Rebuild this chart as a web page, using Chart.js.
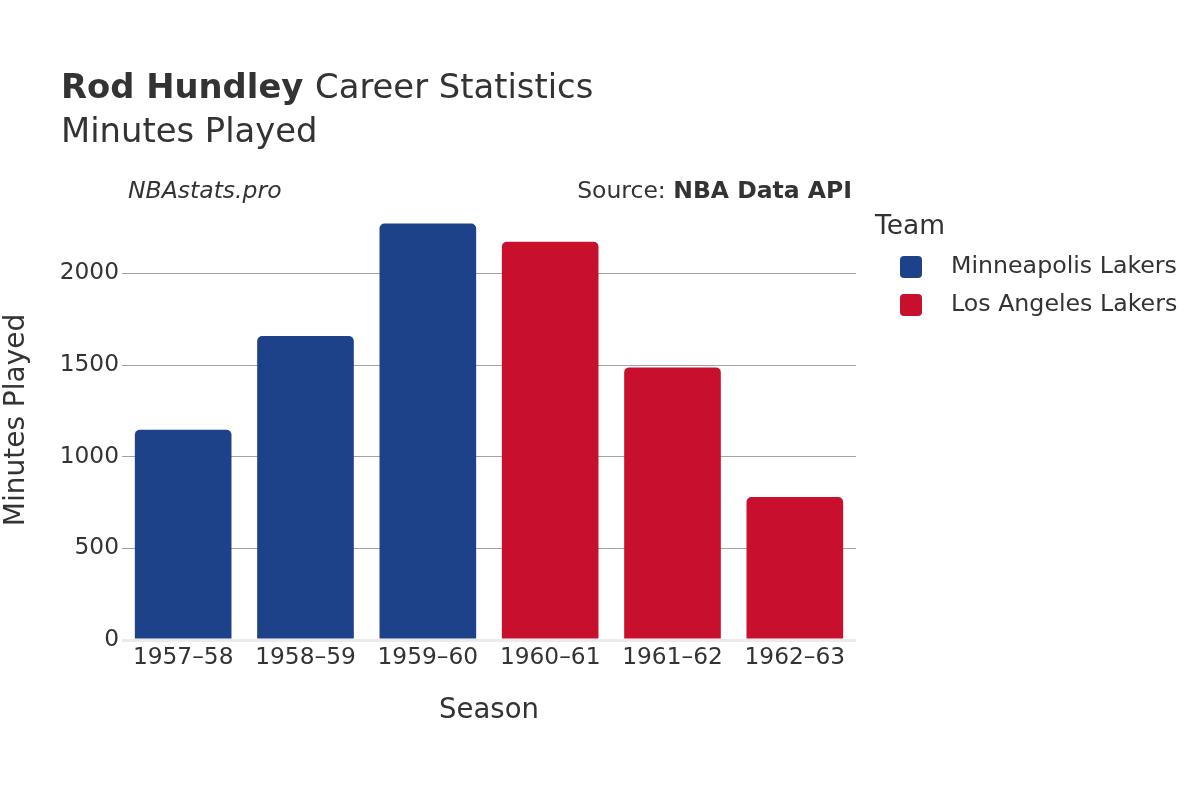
<!DOCTYPE html>
<html>
<head>
<meta charset="utf-8">
<script src="https://cdn.jsdelivr.net/npm/chart.js@4/dist/chart.umd.min.js"></script>
<style>
  html, body { margin: 0; padding: 0; background: #fff; }
  #wrap { width: 1200px; height: 800px; }
</style>
</head>
<body>
<div id="wrap"><canvas id="chart" width="1200" height="800"></canvas></div>
<script>
const seasons = ['1957–58', '1958–59', '1959–60', '1960–61', '1961–62', '1962–63'];
const minneapolisMinutes = [1147, 1658, 2272, null, null, null];
const losAngelesMinutes = [null, null, null, 2172, 1487, 780];
const yTicks = [0, 500, 1000, 1500, 2000];

const FONT = "'DejaVu Sans', sans-serif";
const TEXT = '#333333';

// titles, source notes and legend drawn on top of the canvas
const overlay = {
    id: 'overlay',
    afterDraw(chart) {
        const ctx = chart.ctx;
        ctx.save();
        ctx.fillStyle = TEXT;
        ctx.textBaseline = 'middle';
        ctx.textAlign = 'left';

        ctx.font = 'bold 33.8px ' + FONT;
        ctx.fillText('Rod Hundley', 61, 89);
        const w = ctx.measureText('Rod Hundley ').width;
        ctx.font = '33.8px ' + FONT;
        ctx.fillText('Career Statistics', 61 + w, 89);
        ctx.fillText('Minutes Played', 61, 133);

        ctx.font = 'italic 23.5px ' + FONT;
        ctx.fillText('NBAstats.pro', 128, 192);

        ctx.textAlign = 'right';
        ctx.font = 'bold 23.5px ' + FONT;
        const bold = 'NBA Data API';
        ctx.fillText(bold, 852, 192);
        const bw = ctx.measureText(bold).width;
        ctx.font = '23.5px ' + FONT;
        ctx.fillText('Source: ', 852 - bw, 192);

        // legend
        ctx.textAlign = 'left';
        ctx.font = '26.5px ' + FONT;
        ctx.fillText('Team', 875, 227);
        ctx.font = '23.7px ' + FONT;
        chart.data.datasets.forEach((ds, i) => {
            const cy = 267 + i * 38;
            ctx.fillStyle = ds.backgroundColor;
            ctx.beginPath();
            ctx.roundRect(900, cy - 11, 22, 22, 4);
            ctx.fill();
            ctx.fillStyle = TEXT;
            ctx.fillText(ds.label, 951, cy);
        });
        ctx.restore();
    }
};

new Chart(document.getElementById('chart'), {
    type: 'bar',
    data: {
        labels: seasons,
        datasets: [{
            label: 'Minneapolis Lakers',
            data: minneapolisMinutes,
            backgroundColor: '#1d428a',
            borderRadius: { topLeft: 5, topRight: 5 },
            borderSkipped: 'bottom'
        }, {
            label: 'Los Angeles Lakers',
            data: losAngelesMinutes,
            backgroundColor: '#c8102e',
            borderRadius: { topLeft: 5, topRight: 5 },
            borderSkipped: 'bottom'
        }]
    },
    options: {
        responsive: false,
        animation: false,
        barPercentage: 0.79,
        categoryPercentage: 1,
        layout: { padding: { top: 200, right: 344, left: 0, bottom: 0 } },
        plugins: {
            legend: { display: false },
            title: { display: false },
            tooltip: { enabled: false }
        },
        scales: {
            x: {
                stacked: true,
                afterFit: s => { s.height = 160; },
                grid: { display: false, drawTicks: false },
                border: { display: false },
                ticks: { color: TEXT, font: { family: FONT, size: 23.3 }, padding: 4, maxRotation: 0 },
                title: {
                    display: true, text: 'Season', color: TEXT,
                    font: { family: FONT, size: 27.5 },
                    padding: { top: 0, bottom: 73 }
                }
            },
            y: {
                stacked: true,
                min: 0,
                max: 2400,
                afterFit: s => { s.width = 122; },
                afterBuildTicks: s => { s.ticks = yTicks.map(v => ({ value: v })); },
                grid: {
                    drawTicks: false,
                    color: c => c.tick.value === 0 ? '#ebebeb' : '#a3a3a3',
                    lineWidth: c => c.tick.value === 0 ? 3 : 1
                },
                border: { display: false },
                ticks: {
                    color: TEXT, font: { family: FONT, size: 23.3 }, padding: 3,
                    callback: v => String(v)
                },
                title: {
                    display: true, text: 'Minutes Played', color: TEXT,
                    font: { family: FONT, size: 28 },
                    padding: { top: 0, bottom: 0 }
                }
            }
        }
    },
    plugins: [overlay]
});
</script>
</body>
</html>
